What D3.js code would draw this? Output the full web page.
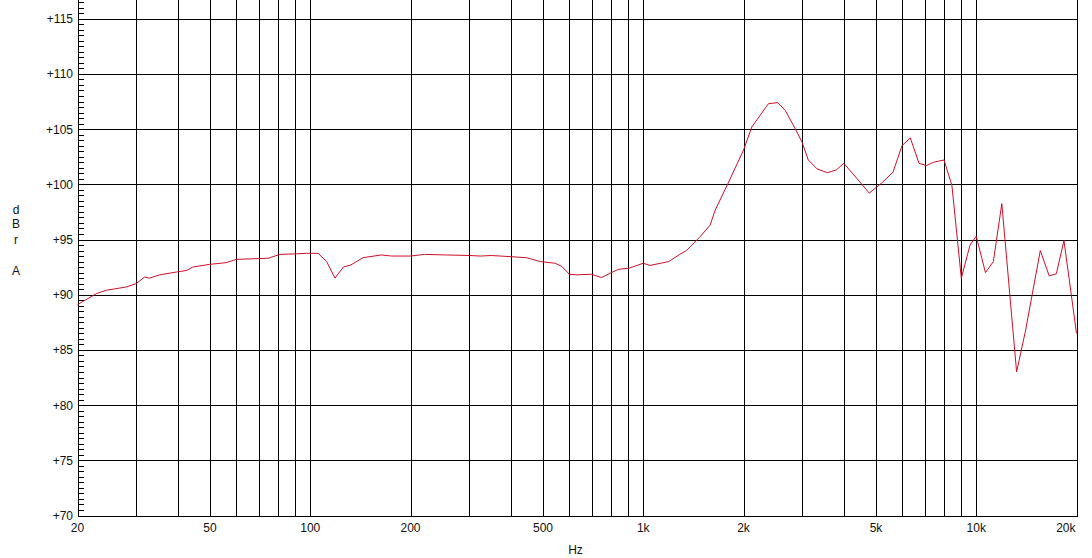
<!DOCTYPE html>
<html><head><meta charset="utf-8">
<script src="https://cdn.jsdelivr.net/npm/d3@7"></script>
<style>html,body{margin:0;padding:0;background:#fff;}svg{display:block;font-family:"Liberation Sans",Arial,sans-serif;}</style>
</head><body>
<svg id="chart" width="1092" height="558"></svg>
<script>
const freqs = [20,22.8,24.4,28,30,31.8,32.9,35.3,39.6,42.6,44.3,49.9,55.9,60,74.7,81,91,97.5,105.6,112,118.6,125.7,132.5,144,163.4,175.6,200,220.4,256.7,301,324,350,398,446,490,544,570,600,632,698,750,795,843,906,1000,1047,1192,1287,1348,1486,1588,1644,1798,2000,2119,2376,2535,2668,2864,3000,3130,3325,3575,3796,4000,4390,4772,5216,5624,5983,6338,6731,7092,7440,8000,8450,9018,9580,10000,10656,11254,11934,13218,14050,15572,16560,17400,18340,20000];
const levels = [89.1,90.1,90.4,90.7,91.0,91.6,91.5,91.8,92.05,92.2,92.5,92.75,92.9,93.2,93.3,93.65,93.7,93.75,93.75,93.0,91.5,92.5,92.7,93.35,93.6,93.5,93.5,93.65,93.6,93.55,93.5,93.55,93.45,93.35,93.0,92.85,92.55,91.85,91.8,91.85,91.55,91.95,92.3,92.4,92.85,92.65,93.0,93.65,94.0,95.3,96.3,97.65,100.1,103.1,105.2,107.3,107.4,106.7,105.0,103.8,102.2,101.4,101.05,101.3,101.9,100.5,99.2,100.15,101.1,103.5,104.2,101.9,101.7,102.0,102.2,99.9,91.5,94.5,95.3,92.0,93.0,98.25,83.0,86.7,94.0,91.7,91.9,94.9,86.5];
const yGrid = [70,75,80,85,90,95,100,105,110,115,120];
const yLabels = [70,75,80,85,90,95,100,105,110,115];
const xGrid = [20,30,40,50,60,70,80,90,100,200,300,400,500,600,700,800,900,1000,2000,3000,4000,5000,6000,7000,8000,9000,10000,20000];
const xLabels = [[20,"20"],[50,"50"],[100,"100"],[200,"200"],[500,"500"],[1000,"1k"],[2000,"2k"],[5000,"5k"],[10000,"10k"],[20000,"20k"]];

const svg = d3.select("#chart");
const x = d3.scaleLog().domain([20,20000]).range([77.5,1076.5]);
const y = d3.scaleLinear().domain([70,120]).range([515.5,-36.5]);
const px = v => Math.round(x(v)) + 0.5;
const py = v => Math.round(y(v)) + 0.5;

const g = svg.append("g").attr("shape-rendering","crispEdges");
g.selectAll("line.h").data(yGrid).join("line")
  .attr("x1",px(20)).attr("x2",px(20000)).attr("y1",d=>py(d)).attr("y2",d=>py(d))
  .attr("stroke","#000").attr("stroke-width",1);
g.selectAll("line.v").data(xGrid).join("line")
  .attr("x1",d=>px(d)).attr("x2",d=>px(d)).attr("y1",py(120)).attr("y2",py(70))
  .attr("stroke","#000").attr("stroke-width",1);
const minor = d3.range(70,120.01,0.5);
g.selectAll("line.m").data(minor).join("line")
  .attr("x1",px(20)).attr("x2",px(20)+5).attr("y1",d=>py(d)).attr("y2",d=>py(d))
  .attr("stroke","#000").attr("stroke-width",1);

svg.selectAll("text.yl").data(yLabels).join("text")
  .attr("x",73).attr("y",d=>y(d)+4.5).attr("text-anchor","end")
  .attr("font-size",12).attr("fill","#111").text(d=>"+"+d);
svg.selectAll("text.xl").data(xLabels).join("text")
  .attr("x",d=>d[0]===20000 ? x(d[0])-1 : x(d[0])).attr("y",532)
  .attr("text-anchor",d=>d[0]===20000 ? "end" : "middle")
  .attr("font-size",12).attr("fill","#111").text(d=>d[1]);
svg.append("text").attr("x",575.5).attr("y",554).attr("text-anchor","middle")
  .attr("font-size",12).attr("fill","#111").text("Hz");
[["d",214],["B",228],["r",244],["A",275]].forEach(([t,yy])=>{
  svg.append("text").attr("x",16).attr("y",yy).attr("text-anchor","middle")
    .attr("font-size",12).attr("fill","#111").text(t);
});

const data = freqs.map((f,i)=>({f, v: levels[i]}));
svg.append("path").datum(data)
  .attr("fill","none").attr("stroke","#cc1028").attr("stroke-width",1)
  .attr("d", d3.line().x(d=>x(d.f)).y(d=>y(d.v)));
</script>
</body></html>
